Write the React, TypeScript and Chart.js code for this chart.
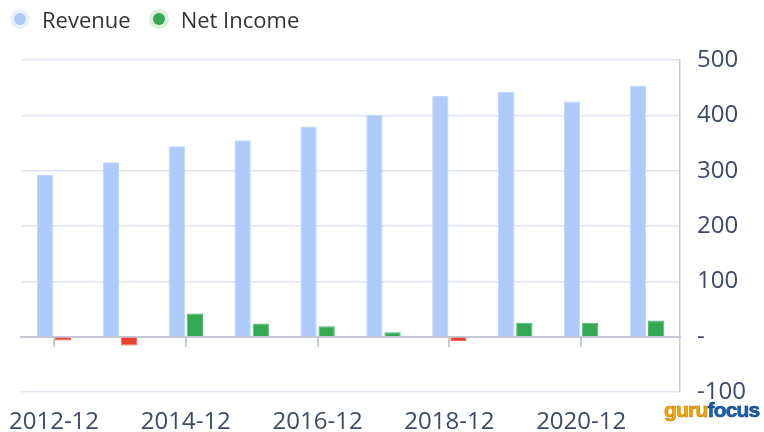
import React, { useEffect, useRef } from "react";
import { Chart, registerables } from "chart.js";

Chart.register(...registerables);

const categories = ["2012-12", "2013-12", "2014-12", "2015-12", "2016-12", "2017-12", "2018-12", "2019-12", "2020-12", "2021-12"];
const revenue = [293, 315, 344, 355, 380, 401, 435, 442, 425, 454];
const netIncome = [-7, -16, 42, 24, 19, 8, -8, 25, 25, 29];
const yTickValues = [-100, 0, 100, 200, 300, 400, 500];

const FONT = "'Open Sans', 'Noto Sans', sans-serif";
const LABEL_COLOR = "#3e4a66";
const AXIS_COLOR = "#c5c9d4";
const GRID_COLOR = "#e0e6f1";

export default function App() {
  const ref = useRef<HTMLCanvasElement | null>(null);

  useEffect(() => {
    if (!ref.current) return;
    const chart = new Chart(ref.current, {
      type: "bar",
      data: {
        labels: categories,
        datasets: [
          {
            label: "Revenue",
            data: revenue,
            backgroundColor: "#aecbfa",
            borderColor: "#bcd4fb",
            borderWidth: 1,
            categoryPercentage: 0.55,
            barPercentage: 0.9,
          },
          {
            label: "Net Income",
            data: netIncome,
            backgroundColor: netIncome.map((v) => (v < 0 ? "#ea4335" : "#34a853")),
            borderColor: netIncome.map((v) => (v < 0 ? "#ef6a5f" : "#52b56b")),
            borderWidth: 1,
            categoryPercentage: 0.55,
            barPercentage: 0.9,
          },
        ],
      },
      options: {
        animation: false,
        responsive: true,
        maintainAspectRatio: false,
        layout: { padding: { top: 60, left: 20, right: 0, bottom: 0 } },
        plugins: { legend: { display: false }, tooltip: { enabled: false } },
        scales: {
          x: {
            type: "category",
            position: "bottom",
            grid: { display: false },
            border: { display: false },
            ticks: {
              autoSkip: false,
              maxRotation: 0,
              padding: 8,
              color: LABEL_COLOR,
              font: { family: FONT, size: 24 },
              callback: (_v: any, i: number) => (i % 2 === 0 ? categories[i] : ""),
            },
            afterFit: (s: any) => {
              s.height = 40;
            },
          },
          x0: {
            type: "category",
            position: { y: 0 } as any,
            offset: true,
            grid: {
              drawOnChartArea: false,
              drawTicks: true,
              tickLength: 9,
              offset: false,
              lineWidth: 2,
              color: (ctx: any) => (ctx.index % 2 === 0 ? AXIS_COLOR : "rgba(0,0,0,0)"),
            },
            border: { display: true, color: AXIS_COLOR, width: 2 },
            ticks: { display: false },
          },
          y: {
            position: "right",
            min: -100,
            max: 500,
            afterBuildTicks: (s: any) => {
              s.ticks = yTickValues.map((v) => ({ value: v }));
            },
            grid: { color: GRID_COLOR, lineWidth: 1.5, drawTicks: false },
            border: { display: true, color: AXIS_COLOR, width: 1.5 },
            ticks: {
              padding: 17,
              color: LABEL_COLOR,
              font: { family: FONT, size: 24 },
              callback: (v: any) => (v === 0 ? "-" : String(v)),
            },
            afterFit: (s: any) => {
              s.width = 84;
            },
          },
        },
      },
    });
    return () => chart.destroy();
  }, []);

  const legendItem = (color: string, halo: string, text: string, mr: number) => (
    <div style={{ display: "flex", alignItems: "center", marginRight: mr }}>
      <div
        style={{
          width: 12,
          height: 12,
          borderRadius: "50%",
          background: color,
          boxShadow: `0 0 0 4px ${halo}`,
          marginRight: 16,
        }}
      />
      <span style={{ fontFamily: FONT, fontSize: 22, color: "#333" }}>{text}</span>
    </div>
  );

  return (
    <div style={{ position: "fixed", left: 0, top: 0, width: 764, height: 432, background: "#fff" }}>
      <canvas ref={ref} width={764} height={432} />
      <div style={{ position: "absolute", left: 14, top: 4, display: "flex", alignItems: "center", height: 30 }}>
        {legendItem("#aecbfa", "#eaf1fe", "Revenue", 22)}
        {legendItem("#34a853", "#d9f0df", "Net Income", 0)}
      </div>
      <div
        style={{
          position: "absolute",
          left: 664,
          top: 396,
          fontFamily: "'Liberation Sans', sans-serif",
          fontWeight: "bold",
          fontSize: 21,
          letterSpacing: -0.8,
          lineHeight: "28px",
          whiteSpace: "nowrap",
          textShadow: "0 0 1px #fff, 1px 1px 0 #fff",
        }}
      >
        <span style={{ color: "#f5a600", WebkitTextStroke: "0.6px #c07800" }}>guru</span>
        <span style={{ color: "#1b5fb0", WebkitTextStroke: "0.6px #0d3f80" }}>focus</span>
      </div>
    </div>
  );
}
